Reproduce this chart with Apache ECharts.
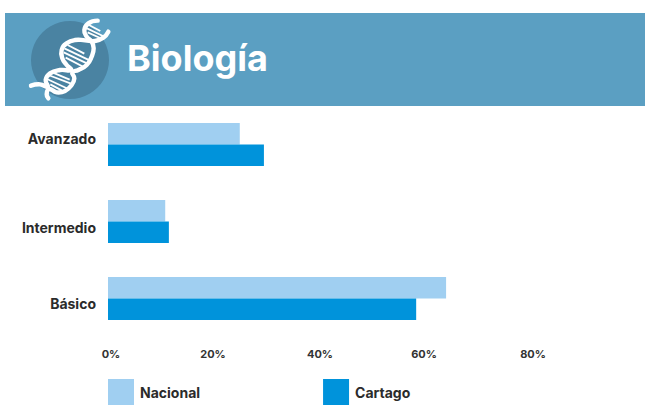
<!DOCTYPE html>
<html><head><meta charset="utf-8">
<style>html,body{margin:0;padding:0;background:#fff}#c{width:645px;height:413px}</style>
<script src="https://cdn.jsdelivr.net/npm/echarts@6/dist/echarts.min.js"></script></head>
<body><div id="c"></div>
<script>
const categories = ['Básico','Intermedio','Avanzado'];
const nacional = [64.4,10.9,25.1];
const cartago = [58.7,11.6,29.7];
const xTicks = ['0%','20%','40%','60%','80%'];
const FONT = 'Inter, "Open Sans", sans-serif';
const chart = echarts.init(document.getElementById('c'),null,{renderer:'svg'});
const z2p=p=>[25+p[0]/3,15+p[1]/3];
function strand(p,w){return {type:'polyline',shape:{points:p.map(z2p),smooth:0.5},style:{stroke:'#fff',fill:'none',lineWidth:w||4.4,lineCap:'round',lineJoin:'round'},z:12};}
const strandA=[[218,17],[190,25],[178,45],[185,65],[200,80],[206,100],[200,125],[185,150],[160,165],[142,172],[148,190],[140,210],[120,228],[95,232],[72,222],[65,238],[70,250]];
const strandB=[[250,50],[235,68],[210,78],[180,76],[150,75],[125,85],[110,105],[112,130],[125,150],[138,165],[105,165],[75,175],[62,195],[68,215],[45,208],[18,212]];
const rungsZ=[[192,30,226,48],[186,40,240,66],[188,52,232,72],
 [128,90,178,116],[118,100,194,136],[116,112,192,148],[122,128,176,156],
 [82,172,134,194],[70,180,144,208],[66,192,130,222],[76,208,110,226]];
const labelShift=[6,0,4,2,10];
const catKey={'Básico':'b','Intermedio':'i','Avanzado':'a'};
const catRich={
 b:{padding:[10,0,0,0],fontFamily:FONT,fontWeight:700,fontSize:14,color:'#2b2b2b'},
 i:{padding:[12,0,0,0],fontFamily:FONT,fontWeight:700,fontSize:14,color:'#2b2b2b'},
 a:{padding:[0,0,12,0],fontFamily:FONT,fontWeight:700,fontSize:14,color:'#2b2b2b'}};
chart.setOption({
 animation:false,
 graphic:[
  {type:'rect',shape:{x:5,y:13,width:640,height:93},style:{fill:'#5b9fc2'},z:1},
  {type:'circle',shape:{cx:70,cy:60,r:39},style:{fill:'#4a83a2'},z:2},
  strand(strandA),strand(strandB),
  ...rungsZ.map(r=>{const a=z2p(r),b=z2p(r.slice(2));return {type:'line',shape:{x1:a[0],y1:a[1],x2:b[0],y2:b[1]},style:{stroke:'#fff',lineWidth:1.8},z:11};}),
  {type:'text',x:127,y:40,style:{text:'Biología',fill:'#fff',font:'700 36px '+FONT},z:12}
 ],
 grid:{left:108,top:106,width:420,height:231},
 xAxis:{type:'value',min:0,max:80,interval:20,
  axisLine:{show:false},axisTick:{show:false},splitLine:{show:false},
  axisLabel:{margin:11,color:'#333',fontFamily:FONT,fontWeight:700,fontSize:11,
    formatter:(v)=>'{t'+(v/20)+'|'+xTicks[v/20]+'}',
    rich:Object.fromEntries(labelShift.map((s,i)=>['t'+i,{padding:[0,0,0,s],fontFamily:FONT,fontWeight:700,fontSize:11,color:'#333'}]))}},
 yAxis:{type:'category',data:categories,
  axisLine:{show:false},axisTick:{show:false},
  axisLabel:{margin:12,color:'#2b2b2b',fontFamily:FONT,fontWeight:700,fontSize:14,
    formatter:(v)=>'{'+catKey[v]+'|'+v+'}',rich:catRich}},
 legend:{left:108,top:379,itemWidth:26,itemHeight:26,itemGap:123,icon:'rect',itemStyle:{borderWidth:0},
  textStyle:{color:'#2b2b2b',fontFamily:FONT,fontWeight:700,fontSize:14,padding:[0,0,0,1]},padding:0,
  data:['Nacional','Cartago']},
 series:[
  {name:'Nacional',type:'bar',data:nacional,barWidth:21.5,barGap:0,itemStyle:{color:'#a0cff1'}},
  {name:'Cartago',type:'bar',data:cartago,barWidth:21.5,barGap:0,itemStyle:{color:'#0093db'}}
 ]
});
</script></body></html>
